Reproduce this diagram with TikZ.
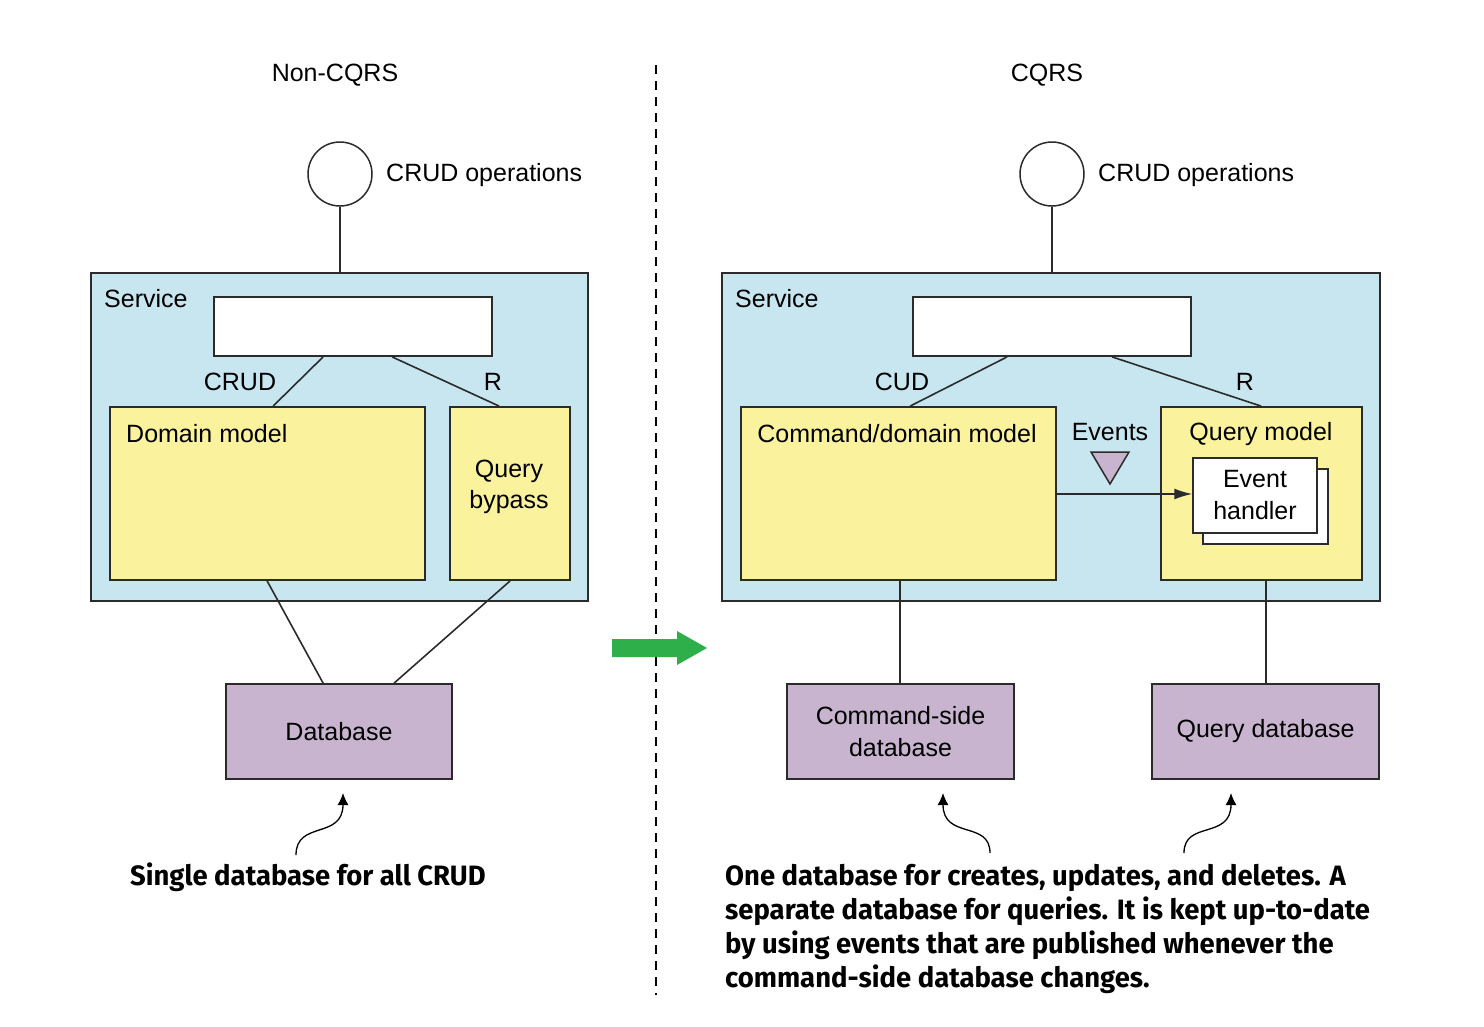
\documentclass[tikz,border=0pt]{standalone}
\usepackage{fontspec}
\setmainfont{Liberation Sans}
\newfontfamily\capfont[FakeStretch=0.98]{Fira Sans}
\usetikzlibrary{arrows.meta,calc}
\definecolor{svcblue}{HTML}{C7E6F0}
\definecolor{modyellow}{HTML}{FAF29C}
\definecolor{dbpurple}{HTML}{C8B4CF}
\definecolor{edge}{HTML}{2B2B2B}
\definecolor{arrgreen}{HTML}{2EAF4A}
\tikzset{
  box/.style={draw=edge, line width=1.8pt, rectangle, inner sep=0pt},
  svc/.style={box, fill=svcblue},
  wbox/.style={box, fill=white},
  model/.style={box, fill=modyellow},
  dbbox/.style={box, fill=dbpurple, align=center},
  conn/.style={draw=edge, line width=1.6pt},
  lbl/.style={inner sep=0pt, font=\fontsize{25}{31}\selectfont, align=center},
  note/.style={draw=black, line width=1.3pt, -{Latex[length=12pt,width=11pt]}},
  capt/.style={inner sep=0pt, font=\capfont\bfseries\fontsize{28}{34}\selectfont, align=left},
}
\begin{document}
\begin{tikzpicture}[x=1pt, y=-1pt]
\useasboundingbox (0,0) rectangle (1484,1026);
% divider
\draw[black, line width=1.6pt, dash pattern=on 9pt off 7pt] (656,65) -- (656,995);
% titles
\node[lbl] (t1) at (335,75) {Non-CQRS};
\node[lbl] (t2) at (1047,75) {CQRS};

% ===== Left =====
\node[svc, minimum width=497pt, minimum height=328pt] (svcL) at (339.5,437) {};
\node[lbl, anchor=west] (svcLl) at (104,299) {Service};
\node[draw=edge, line width=1.5pt, fill=white, circle, minimum size=64pt, inner sep=0pt] (cL) at (340,174) {};
\node[lbl, anchor=west] (cLl) at (386,175) {CRUD operations};
\draw[conn] (cL.south) -- (cL.south |- svcL.north);
\node[wbox, minimum width=278pt, minimum height=59pt] (wL) at (353,326.5) {};
\node[model, minimum width=315pt, minimum height=173pt] (dm) at (267.5,493.5) {};
\node[lbl, anchor=west] (dml) at (126,434) {Domain model};
\node[model, minimum width=120pt, minimum height=173pt] (qb) at (510,493.5) {};
\node[lbl] (qbl) at (509,487) {Query\\bypass};
\draw[conn] ([xshift=110pt]wL.south west) -- ([xshift=164pt]dm.north west);
\draw[conn] ([xshift=179pt]wL.south west) -- ([xshift=50pt]qb.north west);
\node[lbl] (crud) at (240,382) {CRUD};
\node[lbl] (rL) at (493,382) {R};
\node[dbbox, minimum width=226pt, minimum height=95pt, font=\fontsize{25}{31}\selectfont] (db) at (339,731.5) {Database};
\draw[conn] ([xshift=158pt]dm.south west) -- ([xshift=98pt]db.north west);
\draw[conn] ([xshift=61pt]qb.south west) -- ([xshift=169pt]db.north west);
\coordinate (nL0) at (296,855);
\coordinate (nL1) at (343,793);
\draw[note] (nL0) .. controls (296,820) and (343,840) .. (nL1);
\node[capt, anchor=west] (capL) at (130,877) {Single database for all CRUD};

% green arrow
\fill[arrgreen] (612,639) -- (677,639) -- (677,631) -- (707,648) -- (677,665) -- (677,657) -- (612,657) -- cycle;

% ===== Right =====
\node[svc, minimum width=658pt, minimum height=328pt] (svcR) at (1051,437) {};
\node[lbl, anchor=west] (svcRl) at (735,299) {Service};
\node[draw=edge, line width=1.5pt, fill=white, circle, minimum size=64pt, inner sep=0pt] (cR) at (1052,174) {};
\node[lbl, anchor=west] (cRl) at (1098,175) {CRUD operations};
\draw[conn] (cR.south) -- (cR.south |- svcR.north);
\node[wbox, minimum width=278pt, minimum height=59pt] (wR) at (1052,326.5) {};
\node[model, minimum width=315pt, minimum height=173pt] (cm) at (898.5,493.5) {};
\node[lbl] (cml) at (897,434) {Command/domain model};
\node[model, minimum width=201pt, minimum height=173pt] (qm) at (1261.5,493.5) {};
\node[lbl] (qml) at (1261,434) {Query model};
\node[wbox, line width=1.5pt, minimum width=125pt, minimum height=75pt] (ehb) at (1265.5,506.5) {};
\node[wbox, line width=1.5pt, minimum width=124pt, minimum height=75pt, font=\fontsize{25}{32}\selectfont, align=center] (eh) at (1255,495.5) {Event\\handler};
\draw[conn] ([xshift=95pt]wR.south west) -- ([xshift=170pt]cm.north west);
\draw[conn] ([xshift=200pt]wR.south west) -- ([xshift=101pt]qm.north west);
\node[lbl] (cud) at (902,382) {CUD};
\node[lbl] (rR) at (1245,382) {R};
\node[lbl] (ev) at (1110,432) {Events};
\draw[draw=edge, line width=1.5pt, fill=dbpurple] (1091,452) -- (1129,452) -- (1110,484) -- cycle;
\draw[conn, -{Latex[length=18pt,width=11pt]}] (cm.east |- 0,494) -- (eh.west |- 0,494);
\node[dbbox, minimum width=227pt, minimum height=95pt, font=\fontsize{25}{32}\selectfont] (cdb) at (900.5,731.5) {Command-side\\database};
\node[dbbox, minimum width=227pt, minimum height=95pt, font=\fontsize{25}{31}\selectfont] (qdb) at (1265.5,731.5) {Query database};
\draw[conn, line width=1.8pt] ([xshift=-0.5pt]cdb.north |- cm.south) -- ([xshift=-0.5pt]cdb.north);
\draw[conn, line width=1.8pt] ([xshift=0.5pt]qdb.north |- qm.south) -- ([xshift=0.5pt]qdb.north);
\coordinate (nR0) at (990,853);
\coordinate (nR1) at (943,793);
\draw[note] (nR0) .. controls (990,820) and (943,840) .. (nR1);
\coordinate (nS0) at (1184,853);
\coordinate (nS1) at (1231,793);
\draw[note] (nS0) .. controls (1184,820) and (1231,840) .. (nS1);
\node[capt, anchor=north west] (capR) at (725,864) {One database for creates, updates, and deletes. A\\separate database for queries. It is kept up-to-date\\by using events that are published whenever the\\command-side database changes.};
\end{tikzpicture}
\end{document}
